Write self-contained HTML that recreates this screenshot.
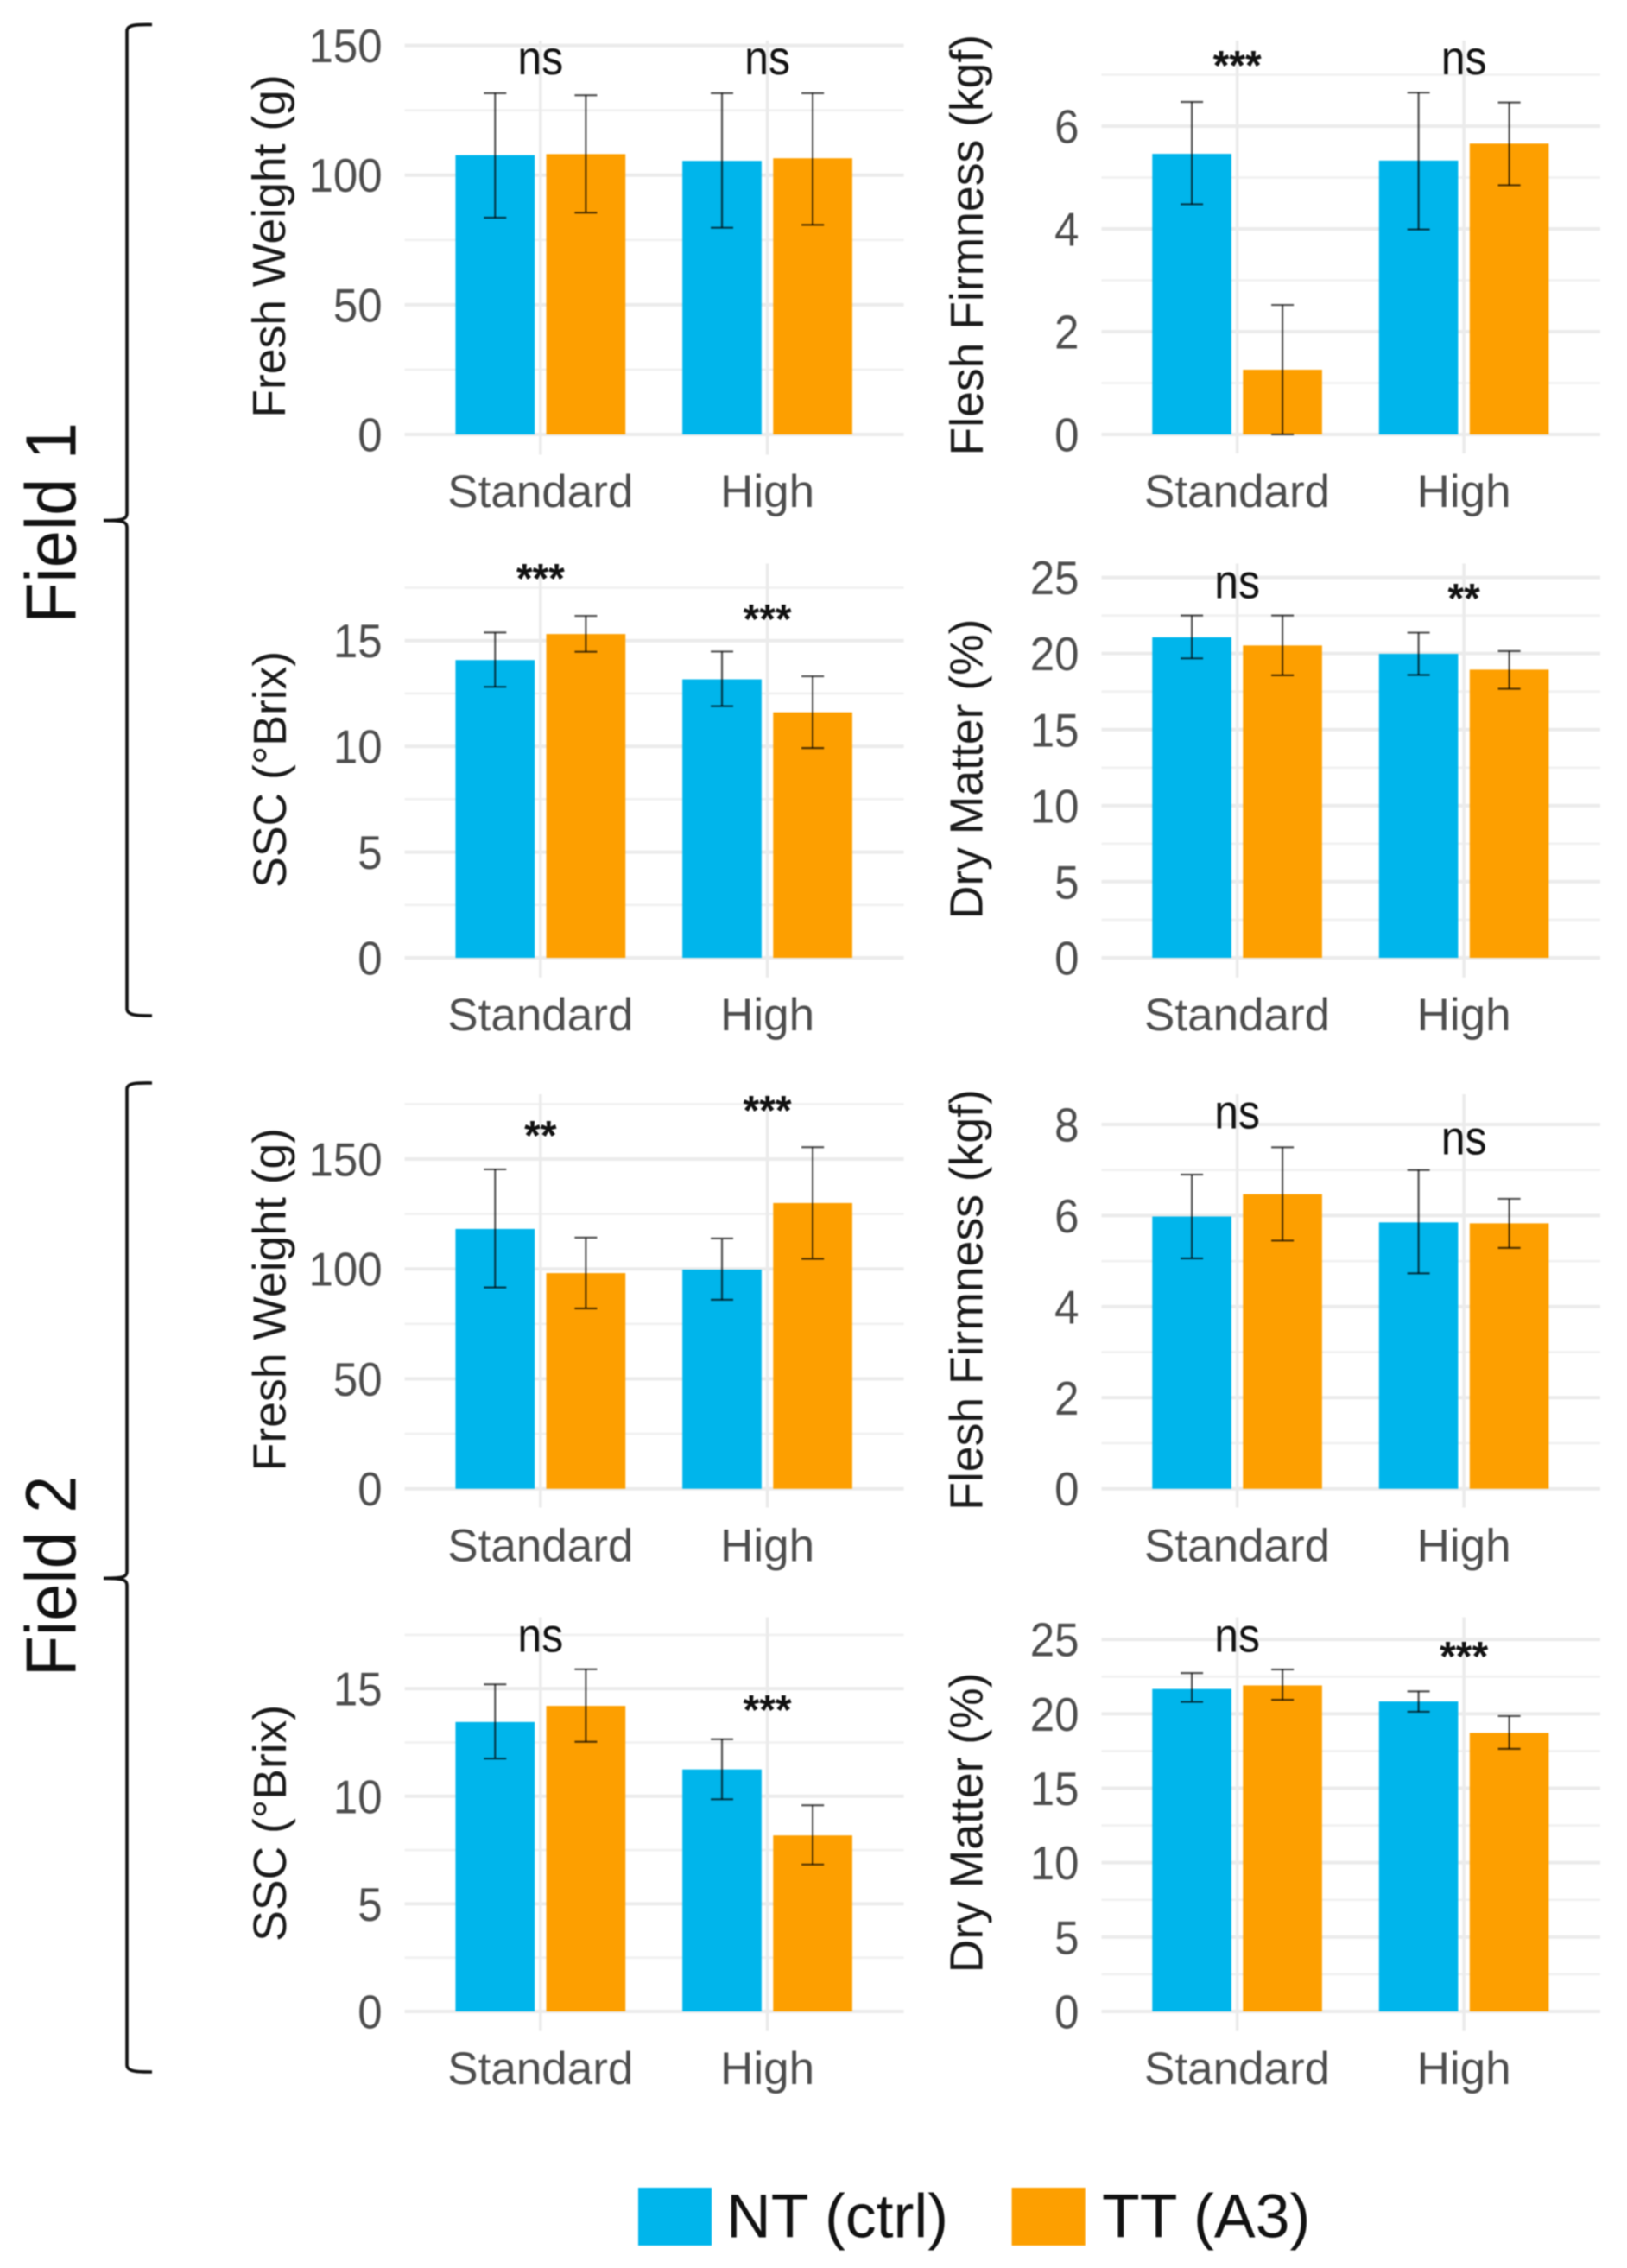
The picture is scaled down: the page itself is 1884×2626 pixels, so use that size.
<!DOCTYPE html>
<html lang="en">
<head>
<meta charset="utf-8">
<title>Fruit quality by field</title>
<style>
  html, body { margin: 0; padding: 0; background: #fff; }
  #figure { display: block; width: 1884px; height: 2626px; filter: blur(0.7px); }
  text { font-family: "Liberation Sans", sans-serif; }
</style>
</head>
<body>
<svg id="figure" xmlns="http://www.w3.org/2000/svg" width="1884" height="2626" viewBox="0 0 1884 2626">
  <rect x="0" y="0" width="1884" height="2626" fill="#ffffff"/>
  <path d="M176 28.5 C162 28.5 147 27.5 147 36 V594 C147 601 143 602.6 120 602.6 C143 602.6 147 604 147 611 V1168 C147 1176.5 162 1176 176 1176" fill="none" stroke="#111" stroke-width="3.6"/>
  <path d="M176 1254 C162 1254 147 1253 147 1261 V1819 C147 1826 143 1827.4 120 1827.4 C143 1827.4 147 1829 147 1836 V2391 C147 2399.5 162 2399 176 2399" fill="none" stroke="#111" stroke-width="3.6"/>
  <text transform="translate(87.3 605.5) rotate(-90) scale(1 1.07)" text-anchor="middle" font-size="77.5" fill="#111">Field 1</text>
  <text transform="translate(87.3 1825) rotate(-90) scale(1 1.07)" text-anchor="middle" font-size="77.5" fill="#111">Field 2</text>
  <g id="panels"></g>
  <g>
    <rect x="739" y="2533" width="85" height="67" fill="#00b5eb"/>
    <text x="841" y="2590.7" font-size="71.6" fill="#111">NT (ctrl)</text>
    <rect x="1171.6" y="2533" width="85" height="67" fill="#fd9f00"/>
    <text x="1276" y="2590.7" font-size="71.6" fill="#111">TT (A3)</text>
  </g>
</svg>
<script>
// Categories
const categories = ['Standard', 'High'];

// Tick labels
const weightTicks = [0, 50, 100, 150];
const firmnessTicksF1 = [0, 2, 4, 6];
const firmnessTicksF2 = [0, 2, 4, 6, 8];
const sscTicks = [0, 5, 10, 15];
const dryMatterTicks = [0, 5, 10, 15, 20, 25];

// Field 1 – fresh weight
const f1WeightNT = [107.7, 105.5];
const f1WeightTT = [108.1, 106.5];
const f1WeightNTLow = [83.6, 79.7];
const f1WeightNTHigh = [131.6, 131.6];
const f1WeightTTLow = [85.5, 80.8];
const f1WeightTTHigh = [130.8, 131.6];
const f1WeightSig = ['ns', 'ns'];

// Field 1 – flesh firmness
const f1FirmNT = [5.46, 5.33];
const f1FirmTT = [1.26, 5.66];
const f1FirmNTLow = [4.48, 3.99];
const f1FirmNTHigh = [6.47, 6.65];
const f1FirmTTLow = [0, 4.85];
const f1FirmTTHigh = [2.52, 6.46];
const f1FirmSig = ['***', 'ns'];

// Field 1 – SSC
const f1SscNT = [14.08, 13.17];
const f1SscTT = [15.31, 11.61];
const f1SscNTLow = [12.81, 11.9];
const f1SscNTHigh = [15.38, 14.48];
const f1SscTTLow = [14.47, 9.92];
const f1SscTTHigh = [16.17, 13.31];
const f1SscSig = ['***', '***'];

// Field 1 – dry matter
const f1DryNT = [21.07, 19.98];
const f1DryTT = [20.53, 18.94];
const f1DryNTLow = [19.68, 18.59];
const f1DryNTHigh = [22.5, 21.37];
const f1DryTTLow = [18.57, 17.68];
const f1DryTTHigh = [22.5, 20.16];
const f1DrySig = ['ns', '**'];

// Field 2 – fresh weight
const f2WeightNT = [118.2, 99.7];
const f2WeightTT = [98.1, 130];
const f2WeightNTLow = [91.6, 86];
const f2WeightNTHigh = [145.3, 113.9];
const f2WeightTTLow = [82, 104.6];
const f2WeightTTHigh = [114.3, 155.4];
const f2WeightSig = ['**', '***'];

// Field 2 – flesh firmness
const f2FirmNT = [5.98, 5.85];
const f2FirmTT = [6.47, 5.83];
const f2FirmNTLow = [5.06, 4.73];
const f2FirmNTHigh = [6.9, 7.0];
const f2FirmTTLow = [5.45, 5.29];
const f2FirmTTHigh = [7.5, 6.37];
const f2FirmSig = ['ns', 'ns'];

// Field 2 – SSC
const f2SscNT = [13.45, 11.25];
const f2SscTT = [14.2, 8.18];
const f2SscNTLow = [11.75, 9.86];
const f2SscNTHigh = [15.2, 12.65];
const f2SscTTLow = [12.53, 6.83];
const f2SscTTHigh = [15.9, 9.58];
const f2SscSig = ['ns', '***'];

// Field 2 – dry matter
const f2DryNT = [21.67, 20.83];
const f2DryTT = [21.91, 18.72];
const f2DryNTLow = [20.8, 20.14];
const f2DryNTHigh = [22.74, 21.51];
const f2DryTTLow = [20.94, 17.65];
const f2DryTTHigh = [22.98, 19.85];
const f2DrySig = ['ns', '***'];

const SVGNS = 'http://www.w3.org/2000/svg';
const host = document.getElementById('panels');

function make(parent, tag, name, props) {
  const el = document.createElementNS(SVGNS, tag);
  
  
  for (const k in props) el.setAttribute(k, props[k]);
  parent.appendChild(el);
  return el;
}

function drawPanel(p) {
  const g = make(host, 'g', p.id + '-panel', {});
  const last = p.ticks[p.ticks.length - 1];
  const step = p.ticks[1] - p.ticks[0];
  const yScale = v => p.zero - (v / last) * (p.zero - p.lastY);
  const unit = p.width / 2.2;
  const xCat = i => p.left + (i + 0.6) * unit - 0.4;
  const right = p.left + p.width;

  // minor grid
  for (let v = step / 2; yScale(v) >= p.top; v += step) {
    make(g, 'line', p.id + '-minor-grid', { x1: p.left, x2: right, y1: yScale(v), y2: yScale(v), stroke: '#f0f0f0', 'stroke-width': 2.6 });
  }
  // major grid and tick labels
  p.ticks.forEach(t => {
    make(g, 'line', p.id + '-major-grid', { x1: p.left, x2: right, y1: yScale(t), y2: yScale(t), stroke: '#ebebeb', 'stroke-width': 4 });
    const label = make(g, 'text', p.id + '-y-tick-label', { transform: 'translate(' + (p.left - 26) + ' ' + (yScale(t) + 19.5) + ') scale(1 1.08)', 'text-anchor': 'end', 'font-size': 51, fill: '#4d4d4d' });
    label.textContent = String(t);
  });
  // categories
  categories.forEach((c, i) => {
    make(g, 'line', p.id + '-vertical-grid', { x1: xCat(i), x2: xCat(i), y1: p.top, y2: p.bottom, stroke: '#ebebeb', 'stroke-width': 3.6 });
    const label = make(g, 'text', p.id + '-x-tick-label', { x: xCat(i), y: p.zero + 84, 'text-anchor': 'middle', 'font-size': 53, fill: '#4d4d4d' });
    label.textContent = c;
  });
  // bars
  const barW = unit * 0.349;
  const dodge = unit * 0.2;
  const series = [
    { key: 'nt', vals: p.nt, lo: p.ntLow, hi: p.ntHigh, off: -dodge, color: '#00b5eb' },
    { key: 'tt', vals: p.tt, lo: p.ttLow, hi: p.ttHigh, off: dodge, color: '#fd9f00' }
  ];
  series.forEach(s => {
    s.vals.forEach((v, i) => {
      make(g, 'rect', p.id + '-bar-' + s.key, { x: xCat(i) + s.off - barW / 2, y: yScale(v), width: barW, height: p.zero - yScale(v), fill: s.color });
    });
  });
  // error bars
  series.forEach(s => {
    s.vals.forEach((v, i) => {
      const cx = xCat(i) + s.off;
      const style = { stroke: '#000', 'stroke-opacity': 0.68, 'stroke-width': 2.2 };
      make(g, 'line', p.id + '-error-stem-' + s.key, Object.assign({ x1: cx, x2: cx, y1: yScale(s.hi[i]), y2: yScale(s.lo[i]) }, style));
      make(g, 'line', p.id + '-error-cap-' + s.key, Object.assign({ x1: cx - 13, x2: cx + 13, y1: yScale(s.hi[i]), y2: yScale(s.hi[i]) }, style));
      make(g, 'line', p.id + '-error-cap-' + s.key, Object.assign({ x1: cx - 13, x2: cx + 13, y1: yScale(s.lo[i]), y2: yScale(s.lo[i]) }, style));
    });
  });
  // significance labels
  p.sig.forEach((txt, i) => {
    const isNs = txt === 'ns';
    const label = make(g, 'text', p.id + '-significance', {
      transform: 'translate(' + xCat(i) + ' ' + (isNs ? p.sigY[i] : p.sigY[i] - 4) + ')' + (isNs ? ' scale(1 1.12)' : ''),
      'text-anchor': 'middle',
      'font-size': isNs ? 50 : 48,
      'font-weight': isNs ? 'normal' : 'bold',
      fill: '#111'
    });
    label.textContent = txt;
  });
  // y axis title
  const title = make(g, 'text', p.id + '-y-axis-title', { transform: 'translate(' + p.titleX + ' ' + p.titleY + ') rotate(-90)', 'text-anchor': 'middle', 'font-size': 53.5, fill: '#1a1a1a' });
  title.textContent = p.title;
}

drawPanel({ id: 'field1-weight', title: 'Fresh Weight (g)', ticks: weightTicks, left: 468.6, width: 578, zero: 503, lastY: 52.6, top: 47, bottom: 526.5, titleX: 330, titleY: 285, nt: f1WeightNT, tt: f1WeightTT, ntLow: f1WeightNTLow, ntHigh: f1WeightNTHigh, ttLow: f1WeightTTLow, ttHigh: f1WeightTTHigh, sig: f1WeightSig, sigY: [86, 86] });
drawPanel({ id: 'field1-firmness', title: 'Flesh Firmness (kgf)', ticks: firmnessTicksF1, left: 1275.5, width: 577.5, zero: 503, lastY: 146, top: 47, bottom: 525, titleX: 1137.8, titleY: 283.7, nt: f1FirmNT, tt: f1FirmTT, ntLow: f1FirmNTLow, ntHigh: f1FirmNTHigh, ttLow: f1FirmTTLow, ttHigh: f1FirmTTHigh, sig: f1FirmSig, sigY: [96, 86] });
drawPanel({ id: 'field1-ssc', title: 'SSC (°Brix)', ticks: sscTicks, left: 468.6, width: 578, zero: 1109, lastY: 741.7, top: 652.5, bottom: 1131.7, titleX: 331, titleY: 890.8, nt: f1SscNT, tt: f1SscTT, ntLow: f1SscNTLow, ntHigh: f1SscNTHigh, ttLow: f1SscTTLow, ttHigh: f1SscTTHigh, sig: f1SscSig, sigY: [690, 737] });
drawPanel({ id: 'field1-dry-matter', title: 'Dry Matter (%)', ticks: dryMatterTicks, left: 1275.5, width: 577.5, zero: 1109, lastY: 668.6, top: 652.5, bottom: 1131.7, titleX: 1137.6, titleY: 890.4, nt: f1DryNT, tt: f1DryTT, ntLow: f1DryNTLow, ntHigh: f1DryNTHigh, ttLow: f1DryTTLow, ttHigh: f1DryTTHigh, sig: f1DrySig, sigY: [692.7, 713] });
drawPanel({ id: 'field2-weight', title: 'Fresh Weight (g)', ticks: weightTicks, left: 468.6, width: 578, zero: 1723.7, lastY: 1342, top: 1267, bottom: 1745.5, titleX: 330.4, titleY: 1504.6, nt: f2WeightNT, tt: f2WeightTT, ntLow: f2WeightNTLow, ntHigh: f2WeightNTHigh, ttLow: f2WeightTTLow, ttHigh: f2WeightTTHigh, sig: f2WeightSig, sigY: [1335, 1306] });
drawPanel({ id: 'field2-firmness', title: 'Flesh Firmness (kgf)', ticks: firmnessTicksF2, left: 1275.5, width: 577.5, zero: 1723.7, lastY: 1302, top: 1267, bottom: 1745.5, titleX: 1137.6, titleY: 1505, nt: f2FirmNT, tt: f2FirmTT, ntLow: f2FirmNTLow, ntHigh: f2FirmNTHigh, ttLow: f2FirmTTLow, ttHigh: f2FirmTTHigh, sig: f2FirmSig, sigY: [1306.5, 1336.4] });
drawPanel({ id: 'field2-ssc', title: 'SSC (°Brix)', ticks: sscTicks, left: 468.6, width: 578, zero: 2329, lastY: 1955.2, top: 1872.5, bottom: 2351.7, titleX: 331, titleY: 2110.8, nt: f2SscNT, tt: f2SscTT, ntLow: f2SscNTLow, ntHigh: f2SscNTHigh, ttLow: f2SscTTLow, ttHigh: f2SscTTHigh, sig: f2SscSig, sigY: [1912.7, 2000] });
drawPanel({ id: 'field2-dry-matter', title: 'Dry Matter (%)', ticks: dryMatterTicks, left: 1275.5, width: 577.5, zero: 2329, lastY: 1898.2, top: 1872.5, bottom: 2351.7, titleX: 1137.6, titleY: 2110.4, nt: f2DryNT, tt: f2DryTT, ntLow: f2DryNTLow, ntHigh: f2DryNTHigh, ttLow: f2DryTTLow, ttHigh: f2DryTTHigh, sig: f2DrySig, sigY: [1912.7, 1938] });
</script>
</body>
</html>
